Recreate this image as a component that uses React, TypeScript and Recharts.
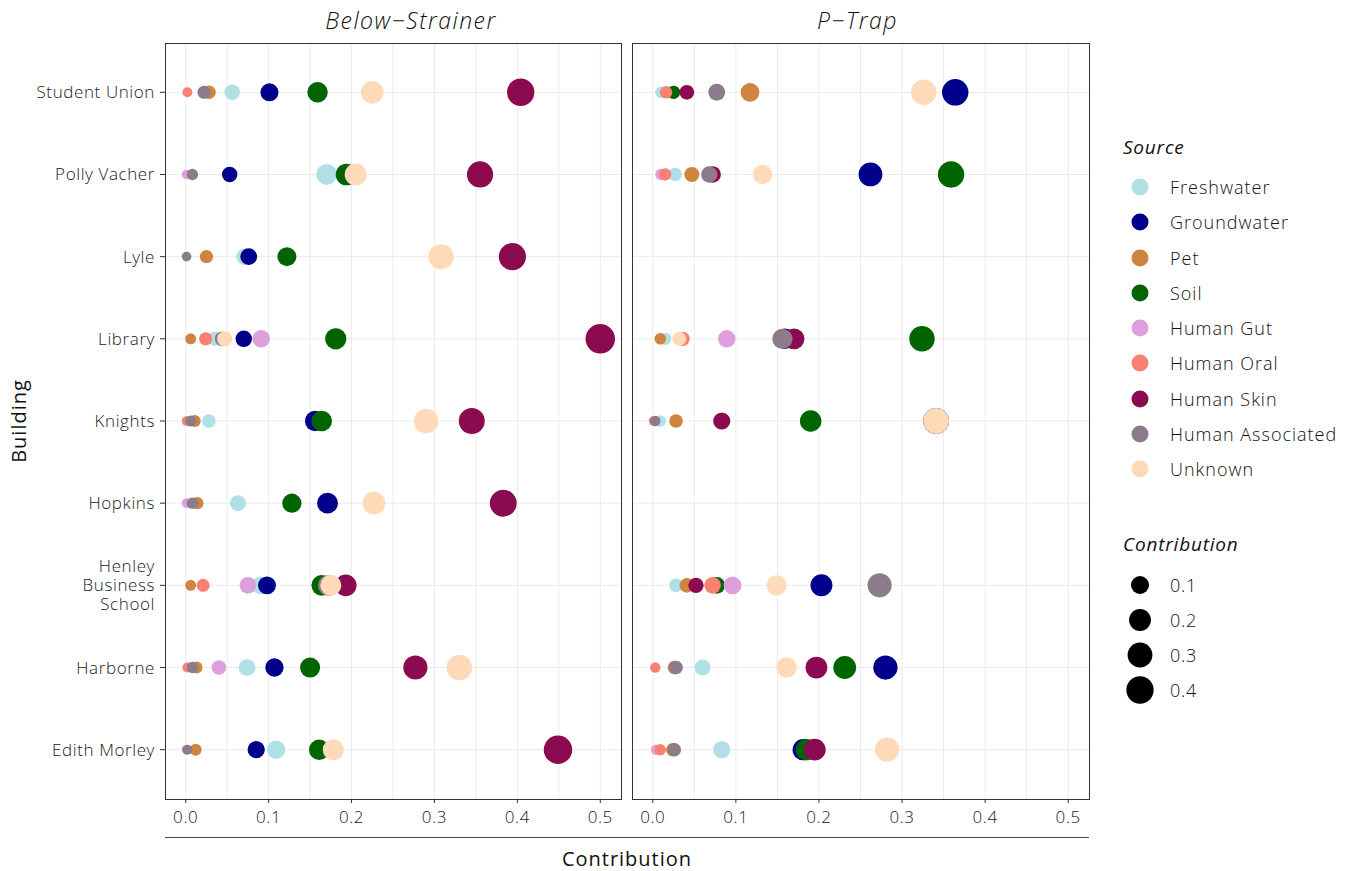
import React from "react";
import {
  ScatterChart,
  Scatter,
  XAxis,
  YAxis,
  CartesianGrid,
} from "recharts";

// buildings, top to bottom
const buildings = [
  "Student Union",
  "Polly Vacher",
  "Lyle",
  "Library",
  "Knights",
  "Hopkins",
  "Henley Business School",
  "Harborne",
  "Edith Morley",
];

const sources = [
  "Freshwater",
  "Groundwater",
  "Pet",
  "Soil",
  "Human Gut",
  "Human Oral",
  "Human Skin",
  "Human Associated",
  "Unknown",
];

const sourceColors = [
  "#B0E0E6",
  "#00008B",
  "#CD853F",
  "#006400",
  "#DDA0DD",
  "#FA8072",
  "#8B0A50",
  "#8B7B8B",
  "#FFDAB9",
];

// Below-Strainer, one value per building (null = no point)
const bsFreshwater = [0.056, 0.17, 0.071, 0.035, 0.028, 0.063, 0.09, 0.074, 0.109];
const bsGroundwater = [0.101, 0.053, 0.076, 0.07, 0.156, 0.171, 0.098, 0.107, 0.085];
const bsPet = [0.028, null, 0.025, 0.006, 0.011, 0.014, 0.006, 0.013, 0.012];
const bsSoil = [0.159, 0.194, 0.122, 0.181, 0.164, 0.128, 0.164, 0.15, 0.161];
const bsHumanGut = [null, 0.001, null, 0.091, null, 0.001, 0.075, 0.04, 0.001];
const bsHumanOral = [0.002, null, null, 0.024, 0.001, null, 0.021, 0.002, null];
const bsHumanSkin = [0.404, 0.355, 0.394, 0.5, 0.345, 0.383, 0.193, 0.277, 0.449];
const bsHumanAssociated = [0.022, 0.008, 0.001, 0.044, 0.006, 0.008, 0.172, 0.008, 0.002];
const bsUnknown = [0.225, 0.205, 0.308, 0.047, 0.29, 0.227, 0.175, 0.33, 0.178];

// P-Trap
const ptFreshwater = [0.01, 0.027, null, 0.015, 0.009, null, 0.028, 0.06, 0.083];
const ptGroundwater = [0.364, 0.262, null, 0.159, 0.341, null, 0.203, 0.28, 0.181];
const ptPet = [0.117, 0.047, null, 0.009, 0.028, null, 0.041, 0.026, 0.024];
const ptSoil = [0.025, 0.359, null, 0.324, 0.19, null, 0.077, 0.231, 0.185];
const ptHumanGut = [null, 0.01, null, 0.089, null, null, 0.096, null, 0.004];
const ptHumanOral = [0.016, 0.015, null, 0.036, 0.001, null, 0.072, 0.003, 0.009];
const ptHumanSkin = [0.041, 0.072, null, 0.17, 0.083, null, 0.052, 0.197, 0.195];
const ptHumanAssociated = [0.077, 0.068, null, 0.156, 0.003, null, 0.273, 0.028, 0.026];
const ptUnknown = [0.326, 0.132, null, 0.032, 0.341, null, 0.149, 0.161, 0.282];

const belowStrainer = [
  bsFreshwater, bsGroundwater, bsPet, bsSoil, bsHumanGut,
  bsHumanOral, bsHumanSkin, bsHumanAssociated, bsUnknown,
];
const pTrap = [
  ptFreshwater, ptGroundwater, ptPet, ptSoil, ptHumanGut,
  ptHumanOral, ptHumanSkin, ptHumanAssociated, ptUnknown,
];

const xTicks = [0, 0.1, 0.2, 0.3, 0.4, 0.5];
const xGrid = [0, 0.05, 0.1, 0.15, 0.2, 0.25, 0.3, 0.35, 0.4, 0.45, 0.5];
const sizeBreaks = [0.1, 0.2, 0.3, 0.4];

const FONT = "'Open Sans', Lato, sans-serif";
const n = buildings.length;

const radius = (v: number) => (8.7 + 20.8 * Math.sqrt(v / 0.5)) / 2;

function toPoints(values: (number | null)[]) {
  return values
    .map((v, i) => ({ x: v, y: n - 1 - i, building: buildings[i] }))
    .filter((p) => p.x !== null);
}

function BuildingTick(props: any) {
  const { x, y, payload } = props;
  const name = buildings[n - 1 - payload.value] ?? "";
  const lines = name.length > 14 ? name.split(" ") : [name];
  const lh = 19;
  return (
    <text
      x={x}
      y={y}
      textAnchor="end"
      fontFamily={FONT}
      fontWeight={300}
      fontSize={17}
      letterSpacing={0.6}
      fill="#1a1a1a"
    >
      {lines.map((l, i) => (
        <tspan key={i} x={x} dy={i === 0 ? -((lines.length - 1) * lh) / 2 + 6 : lh}>
          {l}
        </tspan>
      ))}
    </text>
  );
}

function Panel({
  values,
  showY,
  width,
}: {
  values: (number | null)[][];
  showY: boolean;
  width: number;
}) {
  return (
    <ScatterChart
      width={width}
      height={829}
      margin={{ top: 43, right: 0, bottom: 0, left: 0 }}
    >
      <CartesianGrid
        stroke="#ebebeb"
        strokeWidth={1}
        verticalValues={xGrid}
        horizontalValues={buildings.map((_, i) => i)}
      />
      <XAxis
        type="number"
        dataKey="x"
        domain={[-0.025, 0.525]}
        ticks={xTicks}
        allowDataOverflow
        axisLine={false}
        tickSize={4}
        tickMargin={8}
        height={30}
        tickLine={{ stroke: "#333" }}
        tickFormatter={(v: number) => v.toFixed(1)}
        tick={{ fontSize: 17, fontFamily: FONT, fontWeight: 300, fill: "#1a1a1a", letterSpacing: 0.6 }}
      />
      <YAxis
        type="number"
        dataKey="y"
        domain={[-0.6, n - 1 + 0.6]}
        ticks={buildings.map((_, i) => i)}
        allowDataOverflow
        hide={!showY}
        width={165}
        axisLine={false}
        tickSize={5}
        tickMargin={5}
        tickLine={{ stroke: "#333" }}
        tick={<BuildingTick />}
      />
      {values.map((vals, si) => (
        <Scatter
          key={sources[si]}
          name={sources[si]}
          data={toPoints(vals)}
          isAnimationActive={false}
          shape={(p: any) => (
            <circle
              cx={p.cx}
              cy={p.cy}
              r={radius(p.payload.x)}
              fill={sourceColors[si]}
            />
          )}
        />
      ))}
    </ScatterChart>
  );
}

export default function App() {
  const abs = (s: React.CSSProperties): React.CSSProperties => ({
    position: "absolute",
    ...s,
  });
  return (
    <div
      style={{
        position: "absolute",
        left: 0,
        top: 0,
        width: 1357,
        height: 871,
        background: "#fff",
        fontFamily: FONT,
        color: "#111",
      }}
    >
      <div style={abs({ left: 0, top: 0 })}>
        <Panel values={belowStrainer} showY width={621} />
      </div>
      <div style={abs({ left: 632, top: 0 })}>
        <Panel values={pTrap} showY={false} width={457} />
      </div>

      {/* panel frames */}
      <div style={abs({ left: 165, top: 43, width: 455, height: 755, border: "1px solid #333", pointerEvents: "none" })} />
      <div style={abs({ left: 632, top: 43, width: 456, height: 755, border: "1px solid #333", pointerEvents: "none" })} />

      {/* strip titles */}
      <div style={abs({ left: 183, width: 456, top: 4, textAlign: "center", fontSize: 23, fontStyle: "italic", fontWeight: 300, letterSpacing: 1.5 })}>
        Below−Strainer
      </div>
      <div style={abs({ left: 629, width: 457, top: 4, textAlign: "center", fontSize: 23, fontStyle: "italic", fontWeight: 300, letterSpacing: 1.5 })}>
        P−Trap
      </div>

      {/* x axis title */}
      <div style={abs({ left: 165, width: 924, top: 837, height: 1, background: "#444" })} />
      <div style={abs({ left: 165, width: 924, top: 845, textAlign: "center", fontSize: 20, letterSpacing: 1 })}>
        Contribution
      </div>
      <div
        style={abs({
          left: 18,
          top: 421,
          fontSize: 20,
          letterSpacing: 1,
          transform: "translate(-50%, -50%) rotate(-90deg)",
          whiteSpace: "nowrap",
        })}
      >
        Building
      </div>

      {/* legends */}
      <div style={abs({ left: 1123, top: 134, fontSize: 19, fontStyle: "italic", letterSpacing: 0.8 })}>Source</div>
      {sources.map((s, i) => (
        <div key={s} style={abs({ left: 1128, top: 187 + i * 35.25 - 12, height: 24, display: "flex", alignItems: "center" })}>
          <svg width={24} height={24}>
            <circle cx={12} cy={12} r={8.5} fill={sourceColors[i]} />
          </svg>
          <span style={{ marginLeft: 18, fontSize: 18, fontWeight: 300, letterSpacing: 1, whiteSpace: "nowrap" }}>{s}</span>
        </div>
      ))}
      <div style={abs({ left: 1123, top: 531, fontSize: 19, fontStyle: "italic", letterSpacing: 0.8 })}>Contribution</div>
      {sizeBreaks.map((b, i) => (
        <div key={b} style={abs({ left: 1126, top: 585 + i * 35 - 15, height: 30, display: "flex", alignItems: "center" })}>
          <svg width={30} height={30}>
            <circle cx={14} cy={15} r={radius(b)} fill="#000" />
          </svg>
          <span style={{ marginLeft: 14, fontSize: 18, fontWeight: 300, letterSpacing: 0.7 }}>{b.toFixed(1)}</span>
        </div>
      ))}
    </div>
  );
}
